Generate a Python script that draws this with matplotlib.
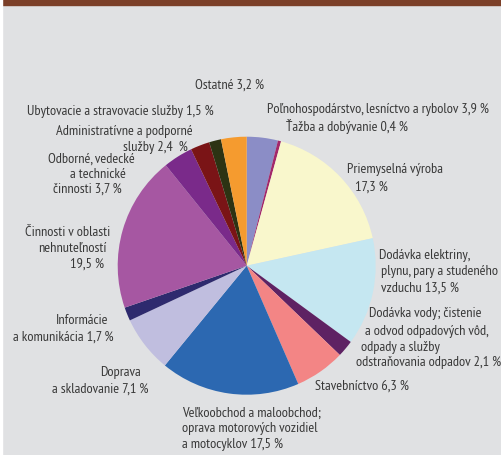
import matplotlib
matplotlib.use("Agg")
from matplotlib import pyplot as plt
from matplotlib.patches import Rectangle

# sector shares, clockwise from 12 o'clock
sectors = [
    "Poľnohospodárstvo", "Ťažba", "Priemyselná výroba", "Dodávka elektriny",
    "Dodávka vody", "Stavebníctvo", "Veľkoobchod", "Doprava", "Informácie",
    "Nehnuteľnosti", "Odborné", "Administratívne", "Ubytovacie", "Ostatné",
]
shares = [3.9, 0.4, 17.3, 13.5, 2.1, 6.3, 17.5, 7.1, 1.7, 19.5, 3.7, 2.4, 1.5, 3.2]
colors = [
    "#8B8DC6", "#A3286A", "#F9F7CC", "#C5E7F1", "#5E2263", "#F38585", "#2C68B1",
    "#C0BEDF", "#2E2A6E", "#A657A2", "#7A2A8A", "#7A1416", "#2D3313", "#F59B2F",
]

# label lines: (x, y from top, text, alignment)
labels = [
    (195, 85, "Ostatné 3,2 %", "left"),
    (27, 112, "Ubytovacie a stravovacie služby 1,5 %", "left"),
    (193, 131, "Administratívne a podporné", "right"),
    (188, 147, "služby 2,4  %", "right"),
    (91, 159, "Odborné, vedecké", "center"),
    (98, 174, "a technické", "center"),
    (87, 189, "činnosti 3,7 %", "center"),
    (110, 232, "Činnosti v oblasti", "right"),
    (107, 248, "nehnuteľností", "right"),
    (104, 264, "19,5 %", "right"),
    (108, 321, "Informácie", "right"),
    (114, 337, "a komunikácia 1,7 %", "right"),
    (141, 373, "Doprava", "right"),
    (149, 389, "a skladovanie 7,1 %", "right"),
    (182, 413, "Veľkoobchod a maloobchod;", "left"),
    (182, 429, "oprava motorových vozidiel", "left"),
    (182, 445, "a motocyklov 17,5 %", "left"),
    (315, 386, "Stavebníctvo 6,3 %", "left"),
    (369, 314, "Dodávka vody; čistenie", "left"),
    (365, 331, "a odvod odpadových vôd,", "left"),
    (361, 347, "odpady a služby", "left"),
    (356, 363, "odstraňovania odpadov 2,1 %", "left"),
    (379, 256, "Dodávka elektriny,", "left"),
    (381, 272, "plynu, pary a studeného", "left"),
    (381, 288, "vzduchu 13,5 %", "left"),
    (347, 170, "Priemyselná výroba", "left"),
    (355, 187, "17,3 %", "left"),
    (267, 110, "Poľnohospodárstvo, lesníctvo a rybolov 3,9 %", "left"),
    (286, 127, "Ťažba a dobývanie 0,4 %", "left"),
]

W, H = 502, 456
fig = plt.figure(figsize=(W / 100, H / 100), dpi=100, facecolor="#E0E1E3")
ax = fig.add_axes([0, 0, 1, 1])
ax.set_facecolor("#E0E1E3")

ax.pie(shares, colors=colors, startangle=90, counterclock=False,
       center=(246.7, H - 266.7), radius=129,
       wedgeprops=dict(linewidth=0))

# page frame: brown header band and white left margin
ax.add_patch(Rectangle((0, H - 6), W, 6, color="#7B3F28", zorder=5))
ax.add_patch(Rectangle((0, 0), 2, H, color="white", zorder=5))

for x, y, txt, ha in labels:
    ax.text(x, H - y, txt, ha=ha, va="center", fontsize=10.3,
            family=["PT Sans Narrow", "DejaVu Sans"], color="#383838")

ax.set_xlim(0, W)
ax.set_ylim(0, H)
ax.set_aspect("auto")
ax.axis("off")

fig.savefig("out.png", dpi=100, facecolor=fig.get_facecolor())
